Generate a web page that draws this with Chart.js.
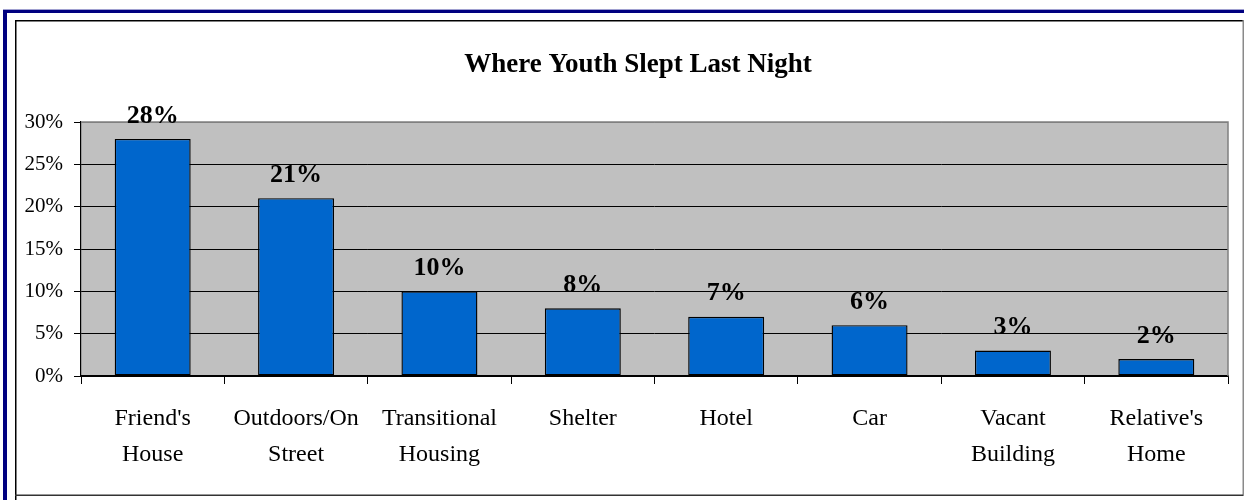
<!DOCTYPE html>
<html>
<head>
<meta charset="utf-8">
<script src="https://cdn.jsdelivr.net/npm/chart.js@4/dist/chart.umd.min.js"></script>
<style>
  html, body { margin: 0; padding: 0; background: #fff; }
  #wrap { width: 1244px; height: 500px; }
</style>
</head>
<body>
<div id="wrap"><canvas id="c" width="1244" height="500"></canvas></div>
<script>
const chartTitle = "Where Youth Slept Last Night";
const categories = [
  ["Friend's", "House"],
  ["Outdoors/On", "Street"],
  ["Transitional", "Housing"],
  ["Shelter"],
  ["Hotel"],
  ["Car"],
  ["Vacant", "Building"],
  ["Relative's", "Home"]
];
const percentages = [28, 21, 10, 8, 7, 6, 3, 2];
const yTickValues = [0, 5, 10, 15, 20, 25, 30];

const SERIF = "'Liberation Serif', 'Times New Roman', Times, serif";

const framePlugin = {
  id: 'frame',
  beforeDraw(chart) {
    const ctx = chart.ctx;
    const W = chart.width, H = chart.height;
    ctx.save();
    ctx.fillStyle = '#ffffff';
    ctx.fillRect(0, 0, W, H);
    // outer navy frame
    ctx.fillStyle = '#a0a0d0';
    ctx.fillRect(3, 9, W - 3, 1);
    ctx.fillStyle = '#000080';
    ctx.fillRect(3, 10, W - 3, 3);
    ctx.fillRect(3, 10, 4, H - 10);
    // inner frame
    ctx.fillStyle = '#000000';
    ctx.fillRect(15, 20, W - 15, 1.5);
    ctx.fillRect(15, 20, 1.5, H - 20);
    ctx.fillStyle = '#8a8a8a';
    ctx.fillRect(1242.5, 20, 1.5, 476);
    ctx.fillStyle = '#333333';
    ctx.fillRect(15, 494.5, 1228, 1.5);
    // plot background
    const a = chart.chartArea;
    ctx.fillStyle = '#c0c0c0';
    ctx.fillRect(a.left, a.top, a.right - a.left, a.bottom - a.top);
    // title
    ctx.fillStyle = '#000';
    ctx.font = "bold 27px " + SERIF;
    ctx.textAlign = 'center';
    ctx.textBaseline = 'middle';
    ctx.fillText(chartTitle, 638, 65);
    ctx.restore();
  },
  afterDraw(chart) {
    const ctx = chart.ctx;
    const a = chart.chartArea;
    ctx.save();
    ctx.strokeStyle = '#808080';
    ctx.lineWidth = 1.5;
    ctx.beginPath();
    ctx.moveTo(a.left, a.top);
    ctx.lineTo(a.right, a.top);
    ctx.lineTo(a.right, a.bottom);
    ctx.stroke();
    // data labels
    ctx.fillStyle = '#000';
    ctx.font = "bold 26px " + SERIF;
    ctx.textAlign = 'center';
    ctx.textBaseline = 'middle';
    const meta = chart.getDatasetMeta(0);
    meta.data.forEach((bar, i) => {
      ctx.fillText(percentages[i] + '%', bar.x, bar.y - 23);
    });
    ctx.restore();
  }
};

new Chart(document.getElementById('c'), {
  type: 'bar',
  data: {
    labels: categories,
    datasets: [{
      label: chartTitle,
      data: percentages,
      backgroundColor: '#0066cc',
      borderColor: '#000000',
      borderWidth: 1.4,
      borderSkipped: false,
      categoryPercentage: 1,
      barPercentage: 0.53
    }]
  },
  options: {
    responsive: false,
    animation: false,
    devicePixelRatio: 1,
    layout: { padding: { top: 122, right: 16, left: 0, bottom: 0 } },
    plugins: {
      legend: { display: false },
      title: { display: false },
      tooltip: { enabled: false }
    },
    scales: {
      x: {
        offset: true,
        grid: {
          display: true,
          drawOnChartArea: false,
          offset: true,
          tickLength: 8,
          tickColor: '#000',
          color: '#000'
        },
        border: { display: true, color: '#000', width: 1.2 },
        ticks: {
          color: '#000',
          padding: 17,
          font: { family: SERIF, size: 24, lineHeight: 1.5 },
          maxRotation: 0,
          autoSkip: false
        },
        afterFit(scale) { scale.height = 124; }
      },
      y: {
        min: 0,
        max: 30,
        afterBuildTicks(scale) { scale.ticks = yTickValues.map(v => ({ value: v })); },
        grid: {
          color: (c) => (c.tick && c.tick.value === 30 ? '#808080' : '#000000'),
          lineWidth: 1,
          tickLength: 7,
          tickColor: '#000'
        },
        border: { display: true, color: '#000', width: 1.2 },
        ticks: {
          color: '#000',
          padding: 11,
          font: { family: SERIF, size: 21 },
          callback: (v) => v + '%'
        },
        afterFit(scale) { scale.width = 81; }
      }
    }
  },
  plugins: [framePlugin]
});
</script>
</body>
</html>
